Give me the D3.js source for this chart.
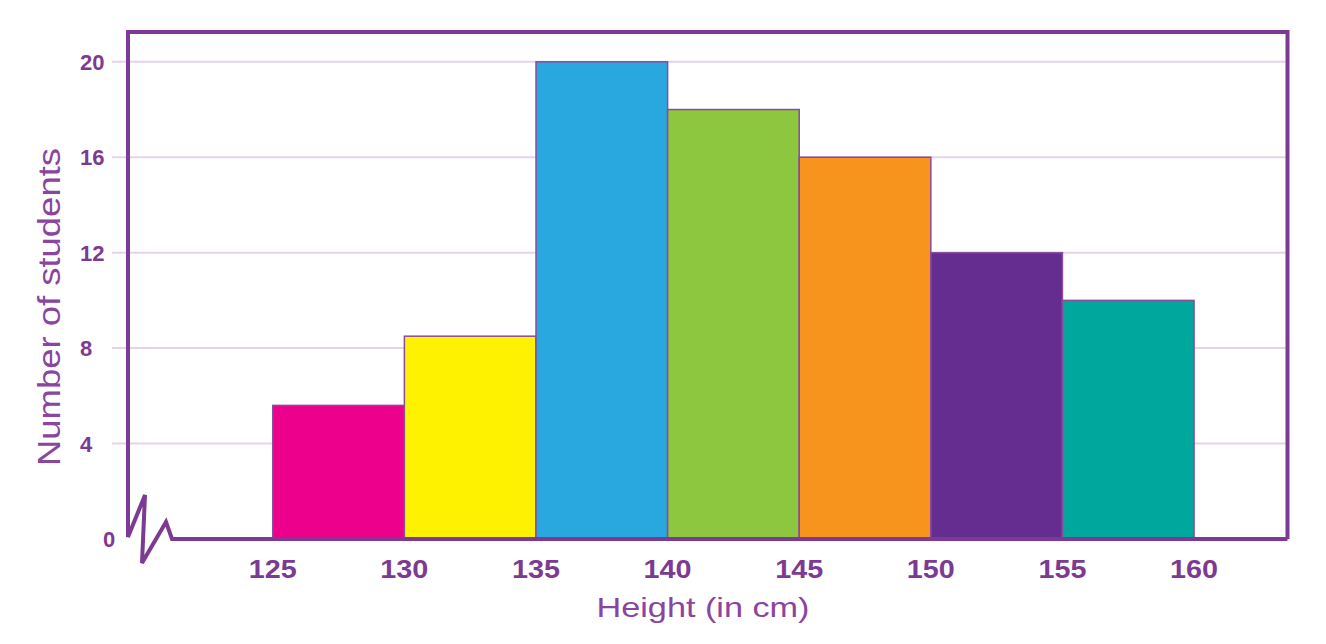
<!DOCTYPE html>
<html>
<head>
<meta charset="utf-8">
<script src="https://cdn.jsdelivr.net/npm/d3@7"></script>
<style>
  body { margin: 0; background: #fff; }
  text { font-family: "Liberation Sans", Arial, sans-serif; }
</style>
</head>
<body>
<script>
// histogram data: class intervals and number of students
var binStarts = [125, 130, 135, 140, 145, 150, 155];
var binWidth = 5;
var counts = [5.6, 8.5, 20, 18, 16, 12, 10];
var barColors = ["#ec008c", "#fff200", "#29a8e0", "#8dc63f", "#f7941d", "#662d91", "#00a79d"];
var xTicks = [125, 130, 135, 140, 145, 150, 155, 160];
var yTicks = [0, 4, 8, 12, 16, 20];

var purple = "#7d3a92";

var svg = d3.select("body").append("svg")
            .attr("width", 1326)
            .attr("height", 644);

var x = d3.scaleLinear().domain([119.5, 163.55]).range([128, 1287.5]);
var y = d3.scaleLinear().domain([0, 20]).range([539, 61.8]);

var frameTop = 32;

// gridlines
svg.selectAll(".grid")
   .data(yTicks.filter(d => d > 0))
   .enter().append("line")
   .attr("x1", 112)
   .attr("x2", x.range()[1])
   .attr("y1", d => y(d))
   .attr("y2", d => y(d))
   .attr("stroke", "#e6d3ea")
   .attr("stroke-width", 2);

// bars
svg.selectAll(".bar")
   .data(counts)
   .enter().append("rect")
   .attr("x", (d, i) => x(binStarts[i]))
   .attr("width", (d, i) => x(binStarts[i] + binWidth) - x(binStarts[i]))
   .attr("y", d => y(d))
   .attr("height", d => y(0) - y(d))
   .attr("fill", (d, i) => barColors[i])
   .attr("stroke", "#8a4a9e")
   .attr("stroke-width", 1.5);

// frame: right, top, left axis with a break, then bottom axis
var x0 = x.range()[0], x1 = x.range()[1], y0 = y(0);
var frame = d3.path();
frame.moveTo(x1, y0);
frame.lineTo(x1, frameTop);
frame.lineTo(x0, frameTop);
frame.lineTo(x0, y0 - 2);
frame.lineTo(x0 + 17, y0 - 44);
frame.lineTo(x0 + 14, y0 + 24);
frame.lineTo(x0 + 38, y0 - 17);
frame.lineTo(x0 + 44, y0);
frame.lineTo(x1, y0);

svg.append("path")
   .attr("d", frame.toString())
   .attr("fill", "none")
   .attr("stroke", purple)
   .attr("stroke-width", 4)
   .attr("stroke-linejoin", "miter");

// y tick labels
svg.selectAll(".ylab")
   .data(yTicks)
   .enter().append("text")
   .attr("x", d => d === 0 ? 103 : 80)
   .attr("y", d => y(d) + 8)
   .attr("font-size", 22)
   .attr("font-weight", "bold")
   .attr("fill", purple)
   .text(d => d);

// x tick labels
svg.selectAll(".xlab")
   .data(xTicks)
   .enter().append("text")
   .attr("x", d => x(d))
   .attr("y", 578)
   .attr("text-anchor", "middle")
   .attr("font-size", 25)
   .attr("font-weight", "bold")
   .attr("fill", purple)
   .attr("textLength", 48)
   .attr("lengthAdjust", "spacingAndGlyphs")
   .text(d => d);

// axis titles
svg.append("text")
   .attr("x", 703)
   .attr("y", 617)
   .attr("text-anchor", "middle")
   .attr("font-size", 28)
   .attr("fill", "#8b44a0")
   .attr("textLength", 213)
   .attr("lengthAdjust", "spacingAndGlyphs")
   .text("Height (in cm)");

svg.append("text")
   .attr("transform", "translate(60,307) rotate(-90)")
   .attr("text-anchor", "middle")
   .attr("font-size", 31)
   .attr("fill", "#8b44a0")
   .attr("textLength", 318)
   .attr("lengthAdjust", "spacingAndGlyphs")
   .text("Number of students");
</script>
</body>
</html>
